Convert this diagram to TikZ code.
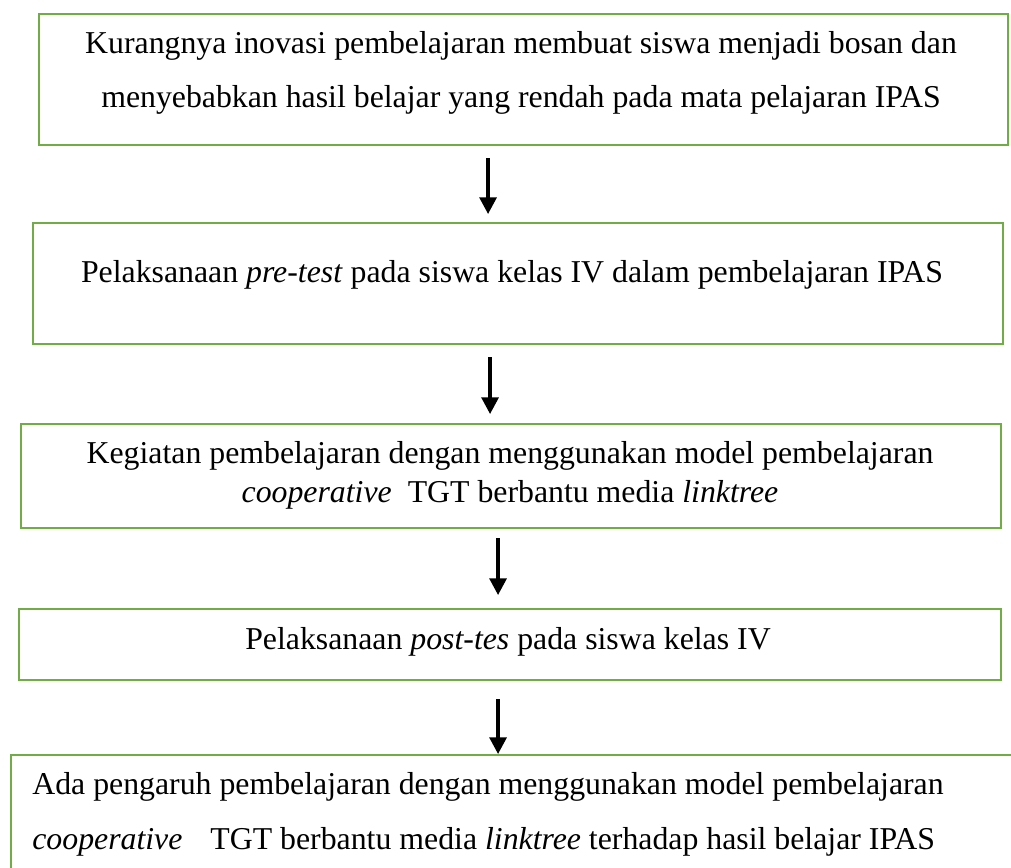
\documentclass[tikz,border=0pt]{standalone}
\usepackage{fontspec}
\setmainfont{Liberation Serif}
\usetikzlibrary{arrows.meta}

\definecolor{hijau}{RGB}{112,173,71}

\begin{document}
\begin{tikzpicture}[x=0.02cm, y=-0.02cm,
  kotak/.style={draw=hijau, line width=1.2pt, anchor=north west, inner sep=0pt},
  baris/.style={font=\fontsize{18.1}{22}\selectfont, inner sep=0pt, anchor=base},
  panah/.style={line width=2.1pt, -{Triangle[length=9.5pt,width=9.5pt]}}]

\def\px{0.02cm}

\useasboundingbox (0,0) rectangle (1011,868);

% kotak-kotak alur
\node[kotak, minimum width=969*\px, minimum height=131*\px] (kotakA) at (38,13) {};
\node[kotak, minimum width=970*\px, minimum height=121*\px] (kotakB) at (32,222) {};
\node[kotak, minimum width=980*\px, minimum height=104*\px] (kotakC) at (20,423) {};
\node[kotak, minimum width=982*\px, minimum height=71*\px] (kotakD) at (18,608) {};
\node[kotak, minimum width=1030*\px, minimum height=150*\px] (kotakE) at (10,754) {};

% teks
\node[baris] (teksA1) at (521,54) {Kurangnya inovasi pembelajaran membuat siswa menjadi bosan dan};
\node[baris] (teksA2) at (521,108) {menyebabkan hasil belajar yang rendah pada mata pelajaran IPAS};

\node[baris] (teksB) at (512,283) {Pelaksanaan \textit{pre-test} pada siswa kelas IV dalam pembelajaran IPAS};

\node[baris] (teksC1) at (510,463) {Kegiatan pembelajaran dengan menggunakan model pembelajaran};
\node[baris] (teksC2) at (510,502) {\textit{cooperative}\hspace{0.32cm}TGT berbantu media \textit{linktree}};

\node[baris] (teksD) at (508,649) {Pelaksanaan \textit{post-tes} pada siswa kelas IV};

\node[baris, anchor=base west] (teksE1) at (32,794) {Ada pengaruh pembelajaran dengan menggunakan model pembelajaran};
\node[baris, anchor=base west] (teksE2) at (32,849) {\textit{cooperative}\hspace{0.56cm}TGT berbantu media \textit{linktree} terhadap hasil belajar IPAS};

% panah
\draw[panah] ([xshift=-0.71cm, yshift=-0.24cm]kotakA.south) -- ++(0,56);
\draw[panah] ([xshift=-0.56cm, yshift=-0.24cm]kotakB.south) -- ++(0,57);
\draw[panah] ([xshift=-0.26cm, yshift=-0.18cm]kotakC.south) -- ++(0,57);
\draw[panah] ([xshift=-0.24cm, yshift=-0.36cm]kotakD.south) -- ++(0,55);

\end{tikzpicture}
\end{document}
